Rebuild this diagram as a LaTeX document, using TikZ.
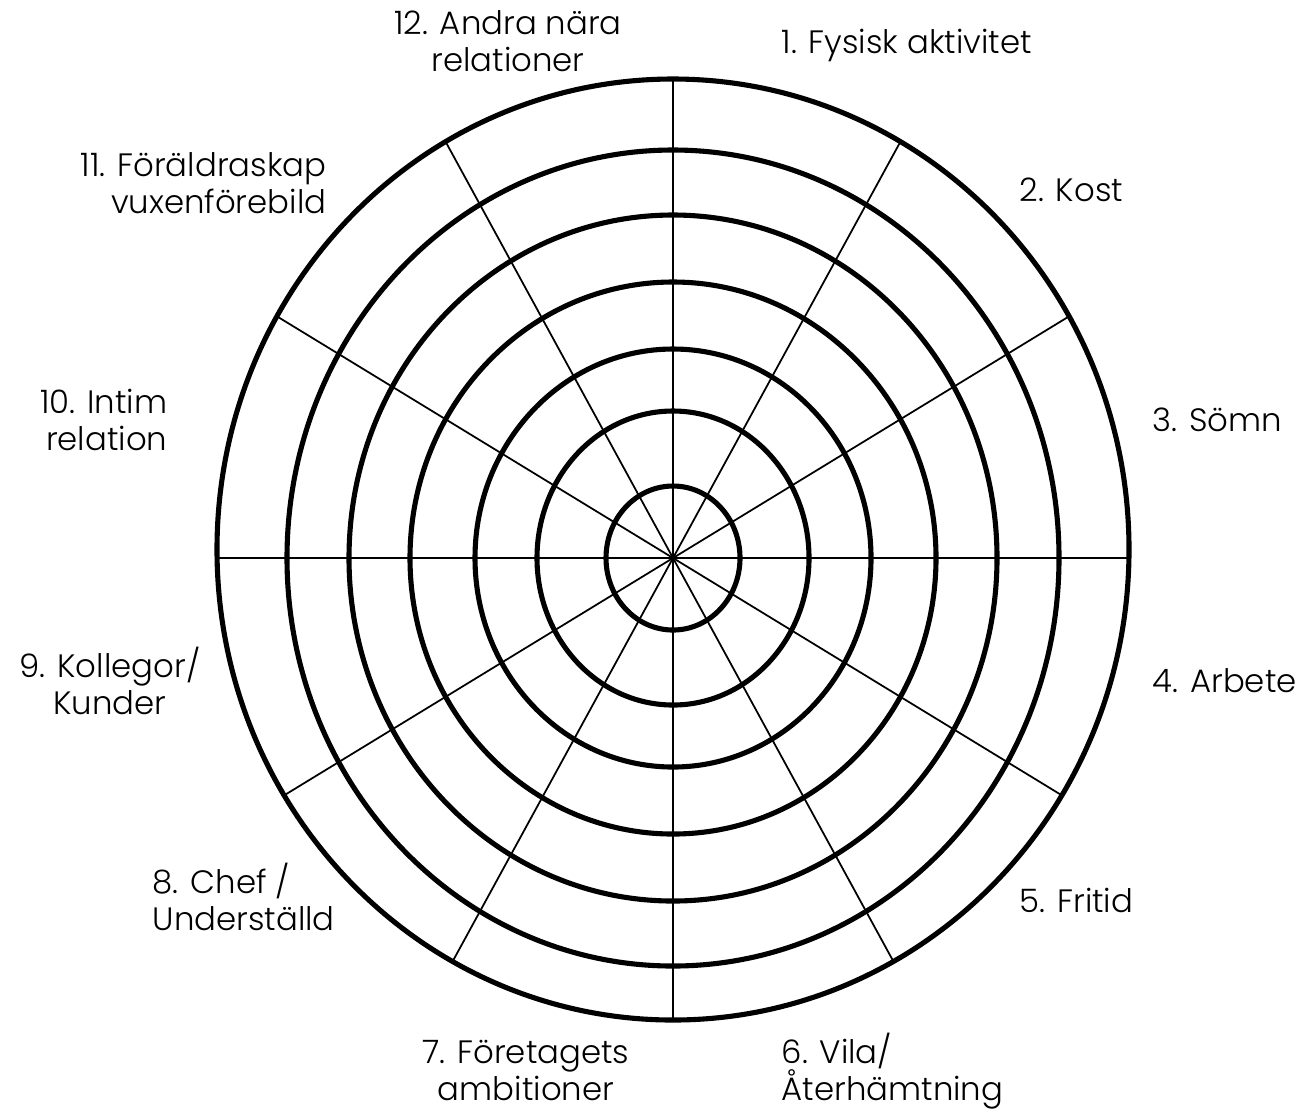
\documentclass[tikz,border=0pt]{standalone}
\usepackage{fontspec}
\setmainfont{Poppins}[UprightFont=* Light]
\usepackage{tikz}

\begin{document}
\begin{tikzpicture}[
  x=0.01cm, y=-0.01cm,
  ring/.style={line width=1.45pt},
  spoke/.style={line width=0.5pt},
  lab/.style={font=\fontsize{9.2pt}{10.5pt}\selectfont, inner sep=0pt}
]
\useasboundingbox (0,0) rectangle (1307,1108);

% centre of the wheel and ends of the spokes
\coordinate (ctr) at (673,558);
\coordinate (octr) at (673,549.5);
\coordinate (e1)  at (673,79);
\coordinate (e2)  at (900.4,141.7);
\coordinate (e3)  at (1069.1,316.3);
\coordinate (e4)  at (1128.9,558);
\coordinate (e5)  at (1061.8,795.3);
\coordinate (e6)  at (893.4,961.4);
\coordinate (e7)  at (673,1020);
\coordinate (e8)  at (452.6,961.4);
\coordinate (e9)  at (284.2,795.3);
\coordinate (e10) at (217.1,558);
\coordinate (e11) at (276.9,316.3);
\coordinate (e12) at (445.6,141.7);

% spokes
\draw[spoke] (ctr) -- (e1);
\draw[spoke] (ctr) -- (e2);
\draw[spoke] (ctr) -- (e3);
\draw[spoke] (ctr) -- (e4);
\draw[spoke] (ctr) -- (e5);
\draw[spoke] (ctr) -- (e6);
\draw[spoke] (ctr) -- (e7);
\draw[spoke] (ctr) -- (e8);
\draw[spoke] (ctr) -- (e9);
\draw[spoke] (ctr) -- (e10);
\draw[spoke] (ctr) -- (e11);
\draw[spoke] (ctr) -- (e12);

% rings
\draw[ring] (ctr) ellipse [x radius=67, y radius=72];
\draw[ring] (ctr) ellipse [x radius=136, y radius=147];
\draw[ring] (ctr) ellipse [x radius=198, y radius=209];
\draw[ring] (ctr) ellipse [x radius=263, y radius=276];
\draw[ring] (ctr) ellipse [x radius=324, y radius=343];
\draw[ring] (ctr) ellipse [x radius=386, y radius=408];
\draw[ring] (octr) ellipse [x radius=456, y radius=470.5];

% area labels (two-line ones sit on their last baseline)
\node[lab, anchor=base west] (l1) at (781,53) {1. Fysisk aktivitet};
\node[lab, anchor=base west] (l2) at (1019,201) {2. Kost};
\node[lab, anchor=base west] (l3) at (1152,431) {3. Sömn};
\node[lab, anchor=base west] (l4) at (1152,692) {4. Arbete};
\node[lab, anchor=base west] (l5) at (1019,912) {5. Fritid};
\node[lab, anchor=base west, align=left] (l6) at (781,1100) {6. Vila/\\Återhämtning};
\node[lab, anchor=base, align=center] (l7) at (526,1100) {7. Företagets\\ambitioner};
\node[lab, anchor=base west, align=left] (l8) at (152,930) {8. Chef /\\Underställd};
\node[lab, anchor=base, align=center] (l9) at (110,714) {9. Kollegor/\\Kunder};
\node[lab, anchor=base east, align=right] (l10) at (168,450) {10. Intim\\relation};
\node[lab, anchor=base east, align=right] (l11) at (327,213) {11. Föräldraskap\\vuxenförebild};
\node[lab, anchor=base, align=center] (l12) at (508,71) {12. Andra nära\\relationer};
\end{tikzpicture}
\end{document}
